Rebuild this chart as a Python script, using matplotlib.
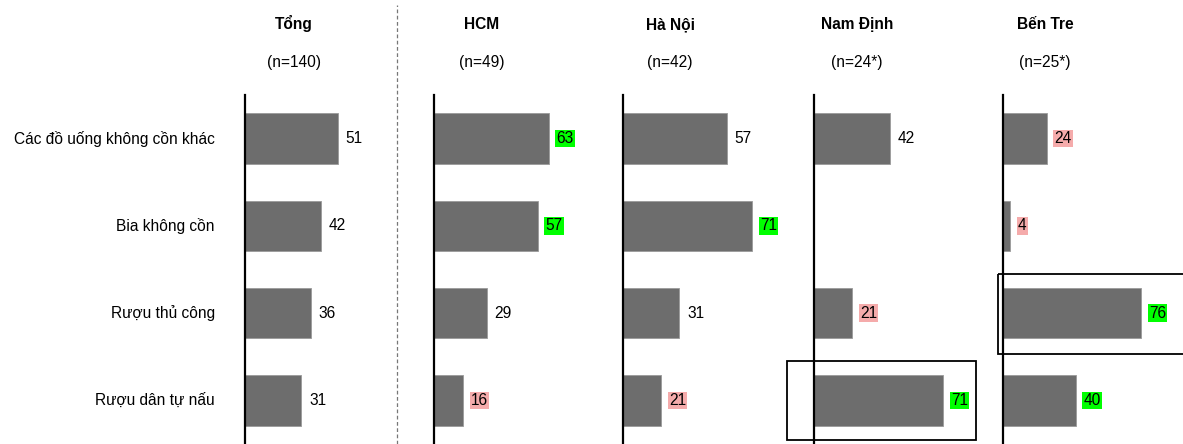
import numpy as np
import matplotlib.pyplot as plt
from matplotlib.patches import Rectangle

plt.rcParams['font.family'] = ['Liberation Sans', 'DejaVu Sans']

categories = ["Các đồ uống không cồn khác", "Bia không cồn", "Rượu thủ công", "Rượu dân tự nấu"]
regions = ["Tổng", "HCM", "Hà Nội", "Nam Định", "Bến Tre"]
sample_sizes = ["(n=140)", "(n=49)", "(n=42)", "(n=24*)", "(n=25*)"]

tong = [51, 42, 36, 31]
hcm = [63, 57, 29, 16]
ha_noi = [57, 71, 31, 21]
nam_dinh = [42, None, 21, 71]
ben_tre = [24, 4, 76, 40]

# "+" = above total (green), "-" = below total (pink), "" = no highlight
flags_tong = ["", "", "", ""]
flags_hcm = ["+", "+", "", "-"]
flags_ha_noi = ["", "+", "", "-"]
flags_nam_dinh = ["", "", "-", "+"]
flags_ben_tre = ["-", "-", "+", "+"]

# boxed cells: (panel index, row index)
boxed = [(3, 3), (4, 2)]

series = [tong, hcm, ha_noi, nam_dinh, ben_tre]
flags = [flags_tong, flags_hcm, flags_ha_noi, flags_nam_dinh, flags_ben_tre]

W, H = 1183, 444
fig = plt.figure(figsize=(W / 100, H / 100), dpi=100)

fs = 11.2
bar_color = "#6d6d6d"
hl_color = {"+": "#00ff00", "-": "#f5abab"}
lefts = [245, 434, 623, 814, 1003]
title_dx = [49, 48, 47, 43, 42]
ax_w = 185
px_per_unit = 1.82
ax_top, ax_bot = 95, 444

y = np.arange(len(categories))
for i, (left, vals, flg) in enumerate(zip(lefts, series, flags)):
    ax = fig.add_axes([left / W, (H - ax_bot) / H, ax_w / W, (ax_bot - ax_top) / H])
    ax.set_xlim(0, ax_w / px_per_unit)
    ax.set_ylim(len(categories) - 0.5, -0.5)
    for j, v in enumerate(vals):
        if v is None:
            continue
        ax.barh(y[j], v, height=0.58, color=bar_color, edgecolor="#9a9a9a", linewidth=0.6)
        bbox = None
        if flg[j]:
            bbox = dict(boxstyle="square,pad=0.08", facecolor=hl_color[flg[j]], edgecolor="none")
        ax.annotate(str(v), xy=(v, y[j]), xytext=(5.5, 0), textcoords="offset points",
                    ha="left", va="center", fontsize=fs, bbox=bbox)
    for spine in ["top", "right", "bottom"]:
        ax.spines[spine].set_visible(False)
    ax.spines["left"].set_linewidth(1.6)
    ax.spines["left"].set_color("black")
    ax.set_xticks([])
    ax.set_yticks([])
    if i == 0:
        for j, c in enumerate(categories):
            ax.text(-16.5, y[j], c, ha="right", va="center", fontsize=fs)
    for (p, r) in boxed:
        if p == i:
            if i == 3:
                rect = Rectangle((-14.8, r - 0.45), 103.8, 0.9, fill=False,
                                 edgecolor="black", linewidth=1.3, clip_on=False)
            else:
                rect = Rectangle((-2.8, r - 0.45), 110, 0.92, fill=False,
                                 edgecolor="black", linewidth=1.3, clip_on=False)
            ax.add_patch(rect)
    fig.text((left + title_dx[i]) / W, 1 - 29 / H, regions[i], ha="center", va="baseline",
             fontsize=fs, fontweight="bold")
    fig.text((left + title_dx[i]) / W, 1 - 67 / H, sample_sizes[i], ha="center", va="baseline",
             fontsize=fs)

# separator between total and regions
fig.add_artist(plt.Line2D([397 / W, 397 / W], [0, 1 - 5 / H], color="#777777",
                          linewidth=0.9, linestyle=(0, (3, 2))))

fig.savefig("out.png", dpi=100)
